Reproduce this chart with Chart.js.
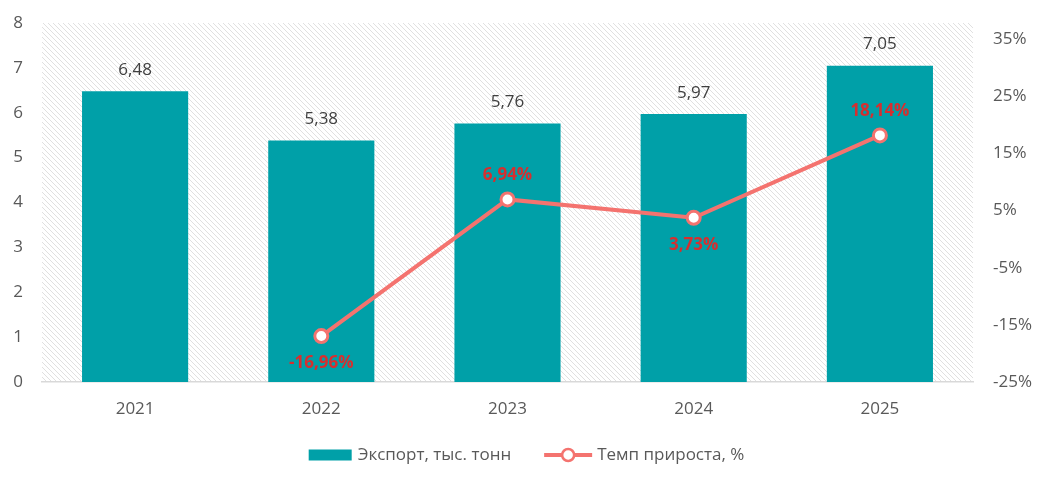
<!DOCTYPE html>
<html>
<head>
<meta charset="utf-8">
<script src="https://cdn.jsdelivr.net/npm/chart.js@4"></script>
<style>
  html, body { margin: 0; padding: 0; background: #fff; }
  #wrap { width: 1045px; height: 480px; }
</style>
</head>
<body>
<div id="wrap"><canvas id="chart"></canvas></div>
<script>
let years = ["2021", "2022", "2023", "2024", "2025"];
let exportValues = [6.48, 5.38, 5.76, 5.97, 7.05];
let growthValues = [null, -16.96, 6.94, 3.73, 18.14];
let leftTicks = [0, 1, 2, 3, 4, 5, 6, 7, 8];
let rightTicks = [-25, -15, -5, 5, 15, 25, 35];

let barColor = "#00A0A8";
let lineColor = "#F4736F";
let labelRed = "#D62F2F";
let textColor = "#595959";
let fontFamily = "'Open Sans', 'Noto Sans', sans-serif";

function comma(v, d) {
    return v.toFixed(d).replace(".", ",");
}

// hatched background of the plot area
function hatchPattern(ctx) {
    let s = 5;
    let c = document.createElement("canvas");
    c.width = s;
    c.height = s;
    let p = c.getContext("2d");
    p.strokeStyle = "#d8d8d8";
    p.lineWidth = 0.8;
    p.beginPath();
    p.moveTo(-1, -1); p.lineTo(s + 1, s + 1);
    p.moveTo(-1, s - 1); p.lineTo(1, s + 1);
    p.moveTo(s - 1, -1); p.lineTo(s + 1, 1);
    p.stroke();
    return ctx.createPattern(c, "repeat");
}

const hatchPlugin = {
    id: "hatch",
    beforeDatasetsDraw(chart) {
        let a = chart.chartArea;
        let ctx = chart.ctx;
        ctx.save();
        ctx.fillStyle = hatchPattern(ctx);
        ctx.fillRect(a.left, a.top, a.right - a.left, a.bottom - a.top);
        ctx.restore();
    }
};

const labelPlugin = {
    id: "labels",
    afterDatasetsDraw(chart) {
        let ctx = chart.ctx;
        ctx.save();
        ctx.textAlign = "center";
        ctx.textBaseline = "middle";

        let bars = chart.getDatasetMeta(0).data;
        ctx.font = "17px " + fontFamily;
        ctx.fillStyle = "#404040";
        bars.forEach((b, i) => {
            ctx.fillText(comma(exportValues[i], 2), b.x, b.y - 21);
        });

        let pts = chart.getDatasetMeta(1).data;
        ctx.font = "bold 17px " + fontFamily;
        ctx.fillStyle = labelRed;
        pts.forEach((p, i) => {
            let v = growthValues[i];
            if (v === null) return;
            let prev = growthValues[i - 1];
            let up = prev !== null && v > prev;
            ctx.fillText(comma(v, 2) + "%", p.x, up ? p.y - 24 : p.y + 27);
        });
        ctx.restore();
    }
};

// legend drawn by hand: Excel-like wide box and line-with-marker
const legendPlugin = {
    id: "customLegend",
    afterDraw(chart) {
        let ctx = chart.ctx;
        let ds = chart.data.datasets;
        ctx.save();
        ctx.font = "17px " + fontFamily;
        ctx.textBaseline = "middle";
        ctx.textAlign = "left";
        let t0 = ctx.measureText(ds[0].label).width;
        let t1 = ctx.measureText(ds[1].label).width;
        let total = 43 + 6 + t0 + 33 + 48 + 5 + t1;
        let x = (chart.width - total) / 2 + 4;
        let y = 455;

        ctx.fillStyle = barColor;
        ctx.fillRect(x, y - 5.5, 43, 11);
        x += 43 + 6;
        ctx.fillStyle = textColor;
        ctx.fillText(ds[0].label, x, y);
        x += t0 + 33;

        ctx.strokeStyle = lineColor;
        ctx.lineWidth = 4;
        ctx.beginPath(); ctx.moveTo(x, y); ctx.lineTo(x + 48, y); ctx.stroke();
        ctx.fillStyle = "#fff";
        ctx.lineWidth = 2.5;
        ctx.beginPath(); ctx.arc(x + 24, y, 6, 0, Math.PI * 2); ctx.fill(); ctx.stroke();
        x += 48 + 5;
        ctx.fillStyle = textColor;
        ctx.fillText(ds[1].label, x, y);
        ctx.restore();
    }
};

function fitY(width) {
    return function (axis) {
        axis.width = width;
        axis.paddingTop = 12;
        axis.paddingBottom = 12;
    };
}

new Chart("chart", {
    data: {
        labels: years,
        datasets: [{
            type: "bar",
            label: "Экспорт, тыс. тонн",
            data: exportValues,
            backgroundColor: barColor,
            barPercentage: 0.57,
            categoryPercentage: 1,
            yAxisID: "y",
            order: 2
        }, {
            type: "line",
            label: "Темп прироста, %",
            data: growthValues,
            borderColor: lineColor,
            borderWidth: 4,
            pointRadius: 6.5,
            pointBorderWidth: 3,
            pointBackgroundColor: "#fff",
            pointBorderColor: lineColor,
            tension: 0,
            yAxisID: "y2",
            order: 1
        }]
    },
    plugins: [hatchPlugin, labelPlugin, legendPlugin],
    options: {
        responsive: true,
        maintainAspectRatio: false,
        animation: false,
        layout: { padding: { left: 0, right: 0, top: 23, bottom: 58 } },
        plugins: {
            tooltip: { enabled: false },
            legend: { display: false }
        },
        scales: {
            x: {
                grid: { display: false, drawTicks: false },
                border: { color: "#d9d9d9", width: 1.5 },
                ticks: { color: textColor, font: { family: fontFamily, size: 17 }, padding: 17 },
                afterFit(axis) { axis.height = 40; }
            },
            y: {
                position: "left",
                min: 0,
                max: 8,
                grid: { display: false, drawTicks: false },
                border: { display: false },
                afterBuildTicks(axis) {
                    axis.ticks = leftTicks.map(v => ({ value: v }));
                },
                ticks: { color: textColor, font: { family: fontFamily, size: 17 }, padding: 19 },
                afterFit: fitY(42)
            },
            y2: {
                position: "right",
                min: -25,
                max: 37.8,
                grid: { display: false, drawTicks: false },
                border: { display: false },
                afterBuildTicks(axis) {
                    axis.ticks = rightTicks.map(v => ({ value: v }));
                },
                ticks: {
                    color: textColor,
                    font: { family: fontFamily, size: 17 },
                    padding: 20,
                    callback: v => v + "%"
                },
                afterFit: fitY(72)
            }
        }
    }
});
</script>
</body>
</html>
